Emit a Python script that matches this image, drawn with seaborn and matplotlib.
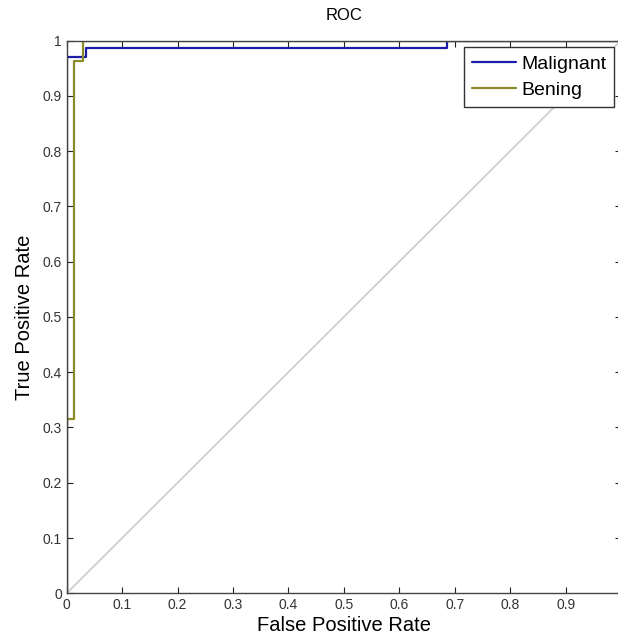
import matplotlib
matplotlib.use('Agg')
import matplotlib.pyplot as plt
import seaborn as sns
import pandas as pd

sns.set_theme(style='white')
plt.rcParams['font.family'] = ['Liberation Sans', 'DejaVu Sans']

# ROC vertices
fpr_malignant = [0.0, 0.0, 0.034, 0.034, 0.686, 0.686, 1.0]
tpr_malignant = [0.0, 0.971, 0.971, 0.986, 0.986, 1.0, 1.0]
fpr_bening = [0.0, 0.0, 0.013, 0.013, 0.030, 0.030, 1.0]
tpr_bening = [0.0, 0.315, 0.315, 0.963, 0.963, 1.0, 1.0]

x_ticks = [0, 0.1, 0.2, 0.3, 0.4, 0.5, 0.6, 0.7, 0.8, 0.9]
x_tick_labels = ['0', '0.1', '0.2', '0.3', '0.4', '0.5', '0.6', '0.7', '0.8', '0.9']
y_ticks = [0, 0.1, 0.2, 0.3, 0.4, 0.5, 0.6, 0.7, 0.8, 0.9, 1]
y_tick_labels = ['0', '0.1', '0.2', '0.3', '0.4', '0.5', '0.6', '0.7', '0.8', '0.9', '1']

df = pd.concat([
    pd.DataFrame({'fpr': fpr_malignant, 'tpr': tpr_malignant, 'class': 'Malignant'}),
    pd.DataFrame({'fpr': fpr_bening, 'tpr': tpr_bening, 'class': 'Bening'}),
])

fig = plt.figure(figsize=(6.18, 6.36), dpi=100)
ax = fig.add_axes([66.7 / 618, (636 - 593.3) / 636, (621 - 66.7) / 618, (593.3 - 40.5) / 636])

# chance diagonal
ax.plot([0, 1], [0, 1], color='#cfcfcf', lw=1.3, zorder=1)

sns.lineplot(data=df, x='fpr', y='tpr', hue='class', sort=False, estimator=None,
             palette={'Malignant': '#1c1ca8', 'Bening': '#8c8c26'}, linewidth=1.6, ax=ax)

ax.set_xlim(0, 1)
ax.set_ylim(0, 1)
ax.set_xticks(x_ticks)
ax.set_xticklabels(x_tick_labels)
ax.set_yticks(y_ticks)
ax.set_yticklabels(y_tick_labels)
ax.tick_params(direction='in', length=4.3, width=0.8, color='#222222', labelsize=10,
               labelcolor='#333333', top=True, right=True, bottom=True, left=True, pad=3.5)
for s in ax.spines.values():
    s.set_color('#444444')
    s.set_linewidth(1.0)

ax.set_xlabel('False Positive Rate', fontsize=14.5, color='black', labelpad=3)
ax.set_ylabel('True Positive Rate', fontsize=14.5, color='black', labelpad=6)
ax.set_title('ROC', fontsize=12, color='black', pad=15)

leg = ax.legend(title=None, loc='upper right', fontsize=14, frameon=True, fancybox=False,
                framealpha=1, edgecolor='#333333', borderaxespad=0.35, borderpad=0.4,
                labelspacing=0.45, handlelength=2.3, handletextpad=0.25)
leg.get_frame().set_linewidth(1.0)
for t in leg.get_texts():
    t.set_color('black')

fig.savefig('out.png', dpi=100)
